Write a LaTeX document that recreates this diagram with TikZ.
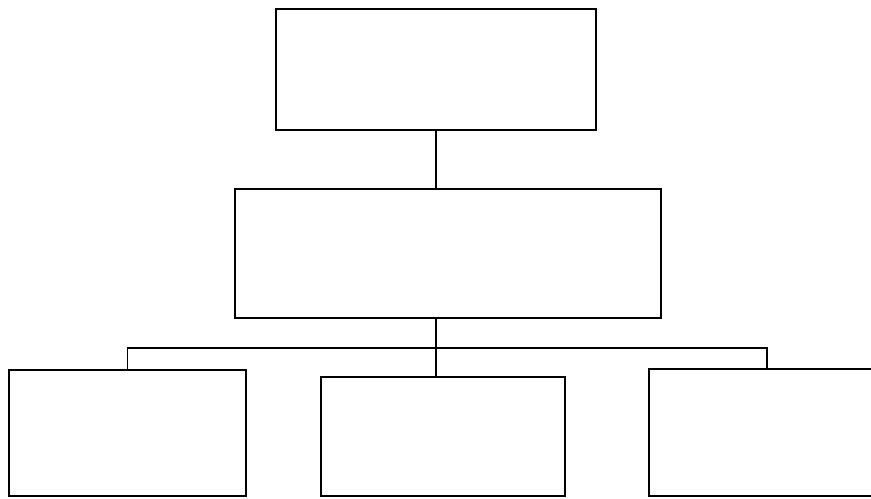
\documentclass[tikz,border=0pt]{standalone}
\begin{document}
\begin{tikzpicture}[line width=0.8pt,box/.style={draw,rectangle,inner sep=0pt}]
\useasboundingbox (0,0) rectangle (17.42,-9.96);
\clip (0,0) rectangle (17.42,-9.96);
\node[box,minimum width=6.4cm,minimum height=2.42cm] (top) at (8.72,-1.39) {};
\node[box,minimum width=8.52cm,minimum height=2.58cm] (mid) at (8.96,-5.07) {};
\node[box,minimum width=4.74cm,minimum height=2.52cm] (bleft) at (2.55,-8.66) {};
\node[box,minimum width=4.88cm,minimum height=2.38cm] (bmid) at (8.86,-8.73) {};
\node[box,minimum width=4.72cm,minimum height=2.54cm] (bright) at (15.34,-8.65) {};
\coordinate (bar) at (8.72,-6.96);
\draw (top.south) -- (top.south |- mid.north);
\draw (mid.south -| bar) -- (bmid.north -| bar);
\draw (bleft.north) |- (bar) -| (bright.north);
\end{tikzpicture}
\end{document}
